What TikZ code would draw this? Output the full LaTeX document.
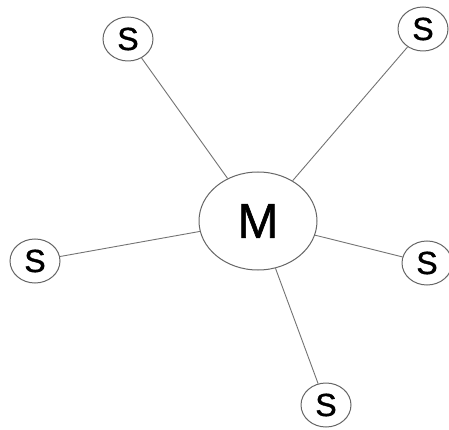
\documentclass[tikz,border=0pt]{standalone}
\usepackage{fontspec}
\setmainfont{Liberation Sans}
% slightly heavier letters for the node labels
\newfontfamily\labelfont{Liberation Sans}[FakeBold=1.2]
\usetikzlibrary{shapes.geometric}
\begin{document}
\begin{tikzpicture}[x=1pt,y=-1pt,
  hub/.style={ellipse,draw=black!60,line width=1pt,fill=white,
    minimum width=118pt,minimum height=98pt,inner sep=0pt,
    font=\labelfont\fontsize{49}{49}\selectfont},
  leaf/.style={ellipse,draw=black!60,line width=1pt,fill=white,
    minimum width=50pt,minimum height=44pt,inner sep=0pt,
    font=\labelfont\fontsize{32}{32}\selectfont},
  link/.style={draw=black!55,line width=0.9pt}]
\useasboundingbox (0,0) rectangle (449,430);
% master in the middle, slaves around it
\node[hub] (m) at (258,221) {M};
\node[leaf] (s1) at (128,39) {S};
\node[leaf] (s2) at (423,29) {S};
\node[leaf] (s3) at (35,261) {S};
\node[leaf] (s4) at (427,263) {S};
\node[leaf] (s5) at (326,405) {S};
\foreach \s in {s1,s2,s3,s4,s5}
  \draw[link] (m) -- (\s);
\end{tikzpicture}
\end{document}
